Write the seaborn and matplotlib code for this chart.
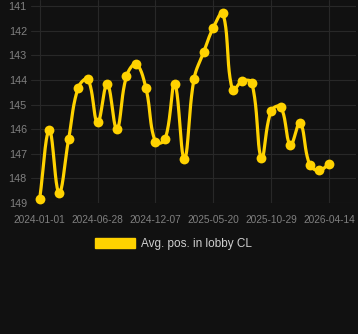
import numpy as np
import pandas as pd
import matplotlib
matplotlib.use("Agg")
import matplotlib.pyplot as plt
from matplotlib.patches import Patch
import seaborn as sns

# ---- data ----
positions = [148.82, 146.05, 148.58, 146.40, 144.31, 143.98, 145.73, 144.17,
             145.99, 143.85, 143.36, 144.31, 146.52, 146.42, 144.17, 147.21,
             143.97, 142.88, 141.88, 141.30, 144.42, 144.05, 144.12, 147.17,
             145.26, 145.10, 146.64, 145.75, 147.44, 147.68, 147.40]
tick_labels = ["2024-01-01", "2024-06-28", "2024-12-07", "2025-05-20",
               "2025-10-29", "2026-04-14"]
tick_index = [0, 6, 12, 18, 24, 30]
y_ticks = [141, 142, 143, 144, 145, 146, 147, 148, 149]
series_name = "Avg. pos. in lobby CL"

BG = "#111111"
GRID = "#282828"
GOLD = "#FFD200"
TICK = "#808080"
TEXT = "#cfcfcf"

idx = np.arange(len(positions), dtype=float)
vals = np.array(positions, dtype=float)

PX_X = 9.643   # pixels per index step
PX_Y = 24.59   # pixels per position unit


def spline_curve(x, y, tension=0.4, n=24):
    # Bezier smoothing (control points from neighbours) computed in pixel space
    X = x * PX_X
    Y = y * PX_Y
    N = len(X)
    cp_prev = np.zeros((N, 2))
    cp_next = np.zeros((N, 2))
    for i in range(N):
        p = np.array([X[i], Y[i]])
        pr = np.array([X[max(i - 1, 0)], Y[max(i - 1, 0)]])
        nx = np.array([X[min(i + 1, N - 1)], Y[min(i + 1, N - 1)]])
        d01 = np.hypot(*(p - pr))
        d12 = np.hypot(*(nx - p))
        tot = d01 + d12
        s01 = d01 / tot if tot else 0
        s12 = d12 / tot if tot else 0
        fa = tension * s01
        fb = tension * s12
        cp_prev[i] = p - fa * (nx - pr)
        cp_next[i] = p + fb * (nx - pr)
    xs, ys = [], []
    for i in range(N - 1):
        t = np.linspace(0, 1, n, endpoint=False)[:, None]
        p0 = np.array([X[i], Y[i]])
        p3 = np.array([X[i + 1], Y[i + 1]])
        p1 = cp_next[i]
        p2 = cp_prev[i + 1]
        b = ((1 - t) ** 3) * p0 + 3 * ((1 - t) ** 2) * t * p1 + 3 * (1 - t) * t ** 2 * p2 + t ** 3 * p3
        xs.append(b[:, 0])
        ys.append(b[:, 1])
    xs.append([X[-1]])
    ys.append([Y[-1]])
    return np.concatenate(xs) / PX_X, np.concatenate(ys) / PX_Y


cx, cy = spline_curve(idx, vals)
curve = pd.DataFrame({"x": cx, "y": cy})
pts = pd.DataFrame({"x": idx, "y": vals})

sns.set_theme(style="dark")
plt.rcParams["font.family"] = ["Liberation Sans", "DejaVu Sans"]

fig = plt.figure(figsize=(3.58, 3.34), dpi=100, facecolor=BG)
W, H = 358, 334
left_px, right_px, top_px, bottom_px = 31, 356, 0, 203
ax = fig.add_axes([left_px / W, 1 - bottom_px / H, (right_px - left_px) / W,
                   (bottom_px - top_px) / H])
ax.set_facecolor(BG)

sns.lineplot(data=curve, x="x", y="y", ax=ax, color=GOLD, linewidth=2.3,
             sort=False, estimator=None, zorder=3)
sns.scatterplot(data=pts, x="x", y="y", ax=ax, color=GOLD, s=50,
                edgecolor=GOLD, linewidth=0, zorder=4, clip_on=False)

x0_px = 39.7
ax.set_xlim((left_px - x0_px) / PX_X, (right_px - x0_px) / PX_X)
ax.set_ylim(149, 141 - 6 / PX_Y)

ax.set_xticks(tick_index)
ax.set_xticklabels(tick_labels)
ax.set_yticks(y_ticks)
ax.set_yticklabels([str(v) for v in y_ticks])
ax.set_xlabel("")
ax.set_ylabel("")
ax.grid(True, color=GRID, linewidth=0.8)
ax.tick_params(axis="x", colors=TICK, labelsize=7.3, pad=8.5, length=0)
ax.tick_params(axis="y", colors=TICK, labelsize=7.8, pad=3, length=0)
for s in ax.spines.values():
    s.set_visible(False)

handle = Patch(facecolor=GOLD, edgecolor=GOLD, label=series_name)
fig.legend(handles=[handle], loc="center", bbox_to_anchor=(173.5 / W, 1 - 244 / H),
           frameon=False, fontsize=8.5, labelcolor=TEXT, handlelength=3.4,
           handleheight=0.95, handletextpad=0.45, borderpad=0)

fig.savefig("out.png", dpi=100, facecolor=BG)
